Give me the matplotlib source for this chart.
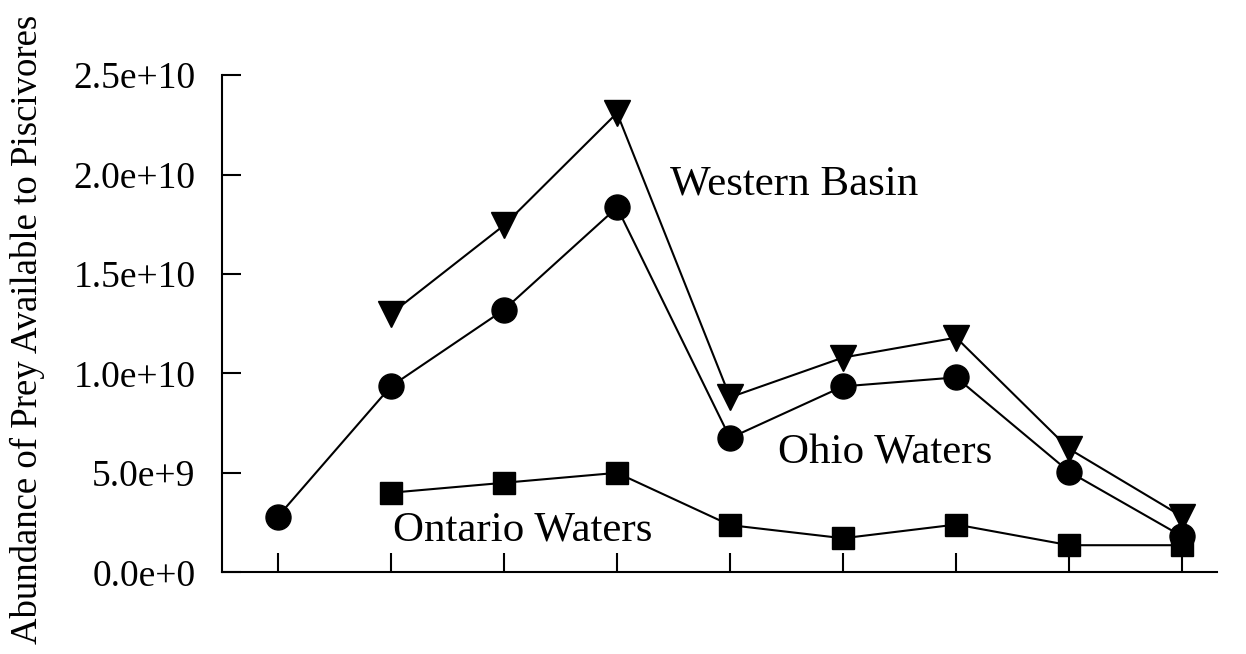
import numpy as np
import matplotlib.pyplot as plt
from matplotlib.ticker import FuncFormatter

plt.rcParams["font.family"] = ["Liberation Serif", "DejaVu Serif"]

# Sampling occasions (unlabelled on the x axis)
x = np.arange(1, 10)

western_basin = [np.nan, 1.30e10, 1.745e10, 2.31e10, 0.88e10, 1.08e10, 1.18e10, 0.62e10, 0.28e10]
ohio_waters = [0.28e10, 0.935e10, 1.32e10, 1.835e10, 0.675e10, 0.935e10, 0.98e10, 0.505e10, 0.18e10]
ontario_waters = [np.nan, 0.40e10, 0.45e10, 0.50e10, 0.237e10, 0.171e10, 0.24e10, 0.136e10, 0.136e10]

y_ticks = [0, 0.5e10, 1.0e10, 1.5e10, 2.0e10, 2.5e10]


def sci_label(v, pos):
    if v == 0:
        return "0.0e+0"
    exp = int(np.floor(np.log10(abs(v))))
    return f"{v / 10**exp:.1f}e+{exp}"


fig = plt.figure(figsize=(12.46, 6.54), dpi=100)
ax = fig.add_axes([0.178, 0.125, 0.799, 0.76])

ax.plot(x, western_basin, "-v", color="black", lw=1.5, ms=19)
ax.plot(x, ohio_waters, "-o", color="black", lw=1.5, ms=18)
ax.plot(x, ontario_waters, "-s", color="black", lw=1.5, ms=16)

ax.text(4.47, 1.95e10, "Western Basin", fontsize=31, va="center", ha="left")
ax.text(5.42, 0.60e10, "Ohio Waters", fontsize=31, va="center", ha="left")
ax.text(2.02, 0.21e10, "Ontario Waters", fontsize=31, va="center", ha="left")

ax.set_xlim(0.504, 9.31)
ax.set_ylim(0, 2.5e10)
ax.set_xticks(x)
ax.set_xticklabels([])
ax.set_yticks(y_ticks)
ax.yaxis.set_major_formatter(FuncFormatter(sci_label))

ax.spines["top"].set_visible(False)
ax.spines["right"].set_visible(False)
ax.spines["left"].set_linewidth(1.5)
ax.spines["bottom"].set_linewidth(1.5)
ax.tick_params(axis="both", direction="in", length=14, width=1.5, labelsize=27)
ax.tick_params(axis="y", pad=19)

ax.set_ylabel("Abundance of Prey Available to Piscivores", fontsize=26.5)
ax.yaxis.set_label_coords(-0.178, 0.488)

fig.savefig("out.png", dpi=100)
